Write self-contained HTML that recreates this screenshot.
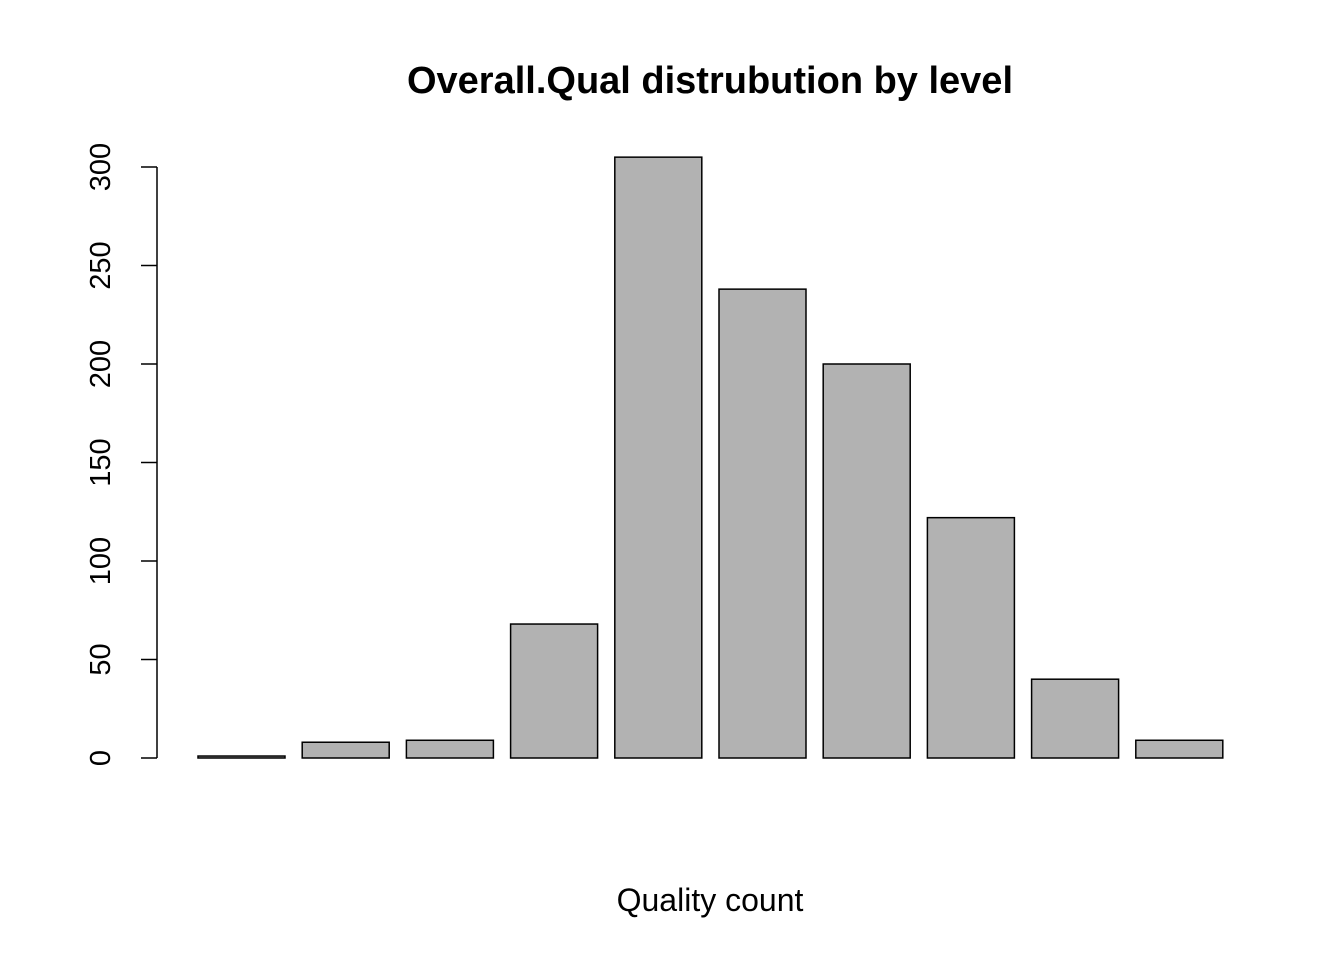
<!DOCTYPE html>
<html><head><meta charset="utf-8"><style>
html,body{margin:0;padding:0;background:#fff;}
svg{display:block;font-family:"Liberation Sans",Arial,sans-serif;}
</style></head><body>
<svg id="chart" width="1344" height="960" viewBox="0 0 1344 960" xmlns="http://www.w3.org/2000/svg">
<rect width="1344" height="960" fill="#fff"/>
<text x="710" y="93" text-anchor="middle" font-size="38" font-weight="bold">Overall.Qual distrubution by level</text>
<text x="710" y="911" text-anchor="middle" font-size="32">Quality count</text>
<g id="bars"></g>
<g id="yaxis"></g>
</svg>
<script>
const categories = ["1","2","3","4","5","6","7","8","9","10"];
const counts = [1, 8, 9, 68, 305, 238, 200, 122, 40, 9];
const ticks = [0, 50, 100, 150, 200, 250, 300];

const NS = "http://www.w3.org/2000/svg";
const y0 = 758, pxPerUnit = 591/300;
function yScale(v){ return y0 - v*pxPerUnit; }
function xScale(i){ return 198 + i*104.2; }
const barW = 87;

const bars = document.getElementById('bars');
categories.forEach((c,i)=>{
  const r = document.createElementNS(NS,'rect');
  
  
  const v = counts[i];
  r.setAttribute('x', xScale(i));
  r.setAttribute('y', yScale(v));
  r.setAttribute('width', barW);
  r.setAttribute('height', Math.max(0, y0 - yScale(v)));
  r.setAttribute('fill', '#b2b2b2');
  r.setAttribute('stroke', '#000');
  r.setAttribute('stroke-width', '1.5');
  bars.appendChild(r);
});

const ax = document.getElementById('yaxis');
const line = document.createElementNS(NS,'line');


line.setAttribute('x1',157);line.setAttribute('x2',157);
line.setAttribute('y1',yScale(ticks[0]));line.setAttribute('y2',yScale(ticks[ticks.length-1]));
line.setAttribute('stroke','#000');line.setAttribute('stroke-width','1.5');
ax.appendChild(line);
ticks.forEach(t=>{
  const y = yScale(t);
  const tk = document.createElementNS(NS,'line');
  
  
  tk.setAttribute('x1',141);tk.setAttribute('x2',157);
  tk.setAttribute('y1',y);tk.setAttribute('y2',y);
  tk.setAttribute('stroke','#000');tk.setAttribute('stroke-width','1.5');
  ax.appendChild(tk);
  const tx = document.createElementNS(NS,'text');
  
  
  tx.setAttribute('x',110);tx.setAttribute('y',y);
  tx.setAttribute('text-anchor','middle');
  tx.setAttribute('font-size','29');
  tx.setAttribute('transform','rotate(-90 110 '+y+')');
  tx.textContent = t;
  ax.appendChild(tx);
});
</script>
</body></html>
